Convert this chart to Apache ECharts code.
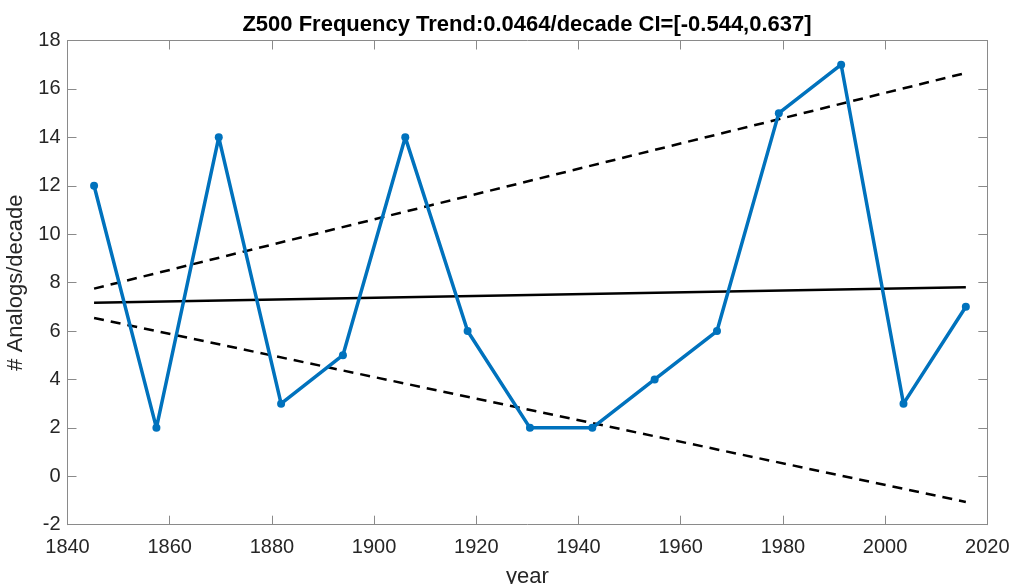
<!DOCTYPE html>
<html>
<head>
<meta charset="utf-8">
<script src="https://cdn.jsdelivr.net/npm/echarts@6/dist/echarts.min.js"></script>
<style>
  html, body { margin: 0; padding: 0; background: #fff; }
  #chart { width: 1013px; height: 584px; }
</style>
</head>
<body>
<div id="chart"></div>
<script>
// 数据
const years = [1845.2, 1857.4, 1869.6, 1881.8, 1893.9, 1906.1, 1918.3, 1930.5, 1942.7, 1954.9, 1967.1, 1979.2, 1991.4, 2003.6, 2015.8];
const counts = [12, 2, 14, 3, 5, 14, 6, 2, 2, 4, 6, 15, 17, 3, 7];
const trendX = [1845.2, 2015.8];
const trendY = [7.17, 7.81];
const upperY = [7.75, 16.66];
const lowerY = [6.54, -1.06];
const titleText = "Z500 Frequency Trend:0.0464/decade CI=[-0.544,0.637]";

const font = "'Liberation Sans', Arial, Helvetica, sans-serif";
const axisGray = "#8a8a8a";
const textColor = "#262626";

function pairs(xs, ys) {
  return xs.map((x, i) => [x, ys[i]]);
}

let chart = echarts.init(document.getElementById("chart"));

const xBase = {
  type: "value",
  min: 1840,
  max: 2020,
  interval: 20,
  splitLine: { show: false },
  axisLine: { show: true, onZero: false, lineStyle: { color: axisGray, width: 1 } },
  axisTick: { show: true, inside: true, length: 9, lineStyle: { color: axisGray } }
};
const yBase = {
  type: "value",
  min: -2,
  max: 18,
  interval: 2,
  splitLine: { show: false },
  axisLine: { show: true, onZero: false, lineStyle: { color: axisGray, width: 1 } },
  axisTick: { show: true, inside: true, length: 9, lineStyle: { color: axisGray } }
};

let option = {
  animation: false,
  title: {
    text: titleText,
    left: 522,
    textAlign: "center",
    top: 9,
    textStyle: { fontFamily: font, fontSize: 22, fontWeight: "bold", color: "#000" }
  },
  grid: { left: 67.5, right: 25.7, top: 40.5, bottom: 59.3, outerBoundsMode: "none" },
  xAxis: [
    Object.assign({}, xBase, {
      position: "bottom",
      name: "year",
      nameLocation: "middle",
      nameGap: 41,
      nameTextStyle: { fontFamily: font, fontSize: 22, color: textColor },
      axisLabel: {
        fontFamily: font, fontSize: 20, color: textColor, margin: 13,
        formatter: v => String(v)
      }
    }),
    Object.assign({}, xBase, { position: "top", axisLabel: { show: false } })
  ],
  yAxis: [
    Object.assign({}, yBase, {
      position: "left",
      name: "# Analogs/decade",
      nameLocation: "middle",
      nameGap: 34,
      nameTextStyle: { fontFamily: font, fontSize: 22, color: textColor },
      axisLabel: { fontFamily: font, fontSize: 20, color: textColor, margin: 7 }
    }),
    Object.assign({}, yBase, { position: "right", axisLabel: { show: false } })
  ],
  series: [
    {
      type: "line",
      data: pairs(trendX, trendY),
      symbol: "none",
      lineStyle: { color: "#000", width: 2.5 },
      z: 3
    },
    {
      type: "line",
      data: pairs(trendX, upperY),
      symbol: "none",
      lineStyle: { color: "#000", width: 2.5, type: [10, 7] },
      z: 3
    },
    {
      type: "line",
      data: pairs(trendX, lowerY),
      symbol: "none",
      lineStyle: { color: "#000", width: 2.5, type: [10, 7] },
      z: 3
    },
    {
      type: "line",
      data: pairs(years, counts),
      symbol: "circle",
      symbolSize: 8,
      itemStyle: { color: "#0072BD" },
      lineStyle: { color: "#0072BD", width: 3.5 },
      z: 4
    }
  ]
};
chart.setOption(option);
</script>
</body>
</html>
